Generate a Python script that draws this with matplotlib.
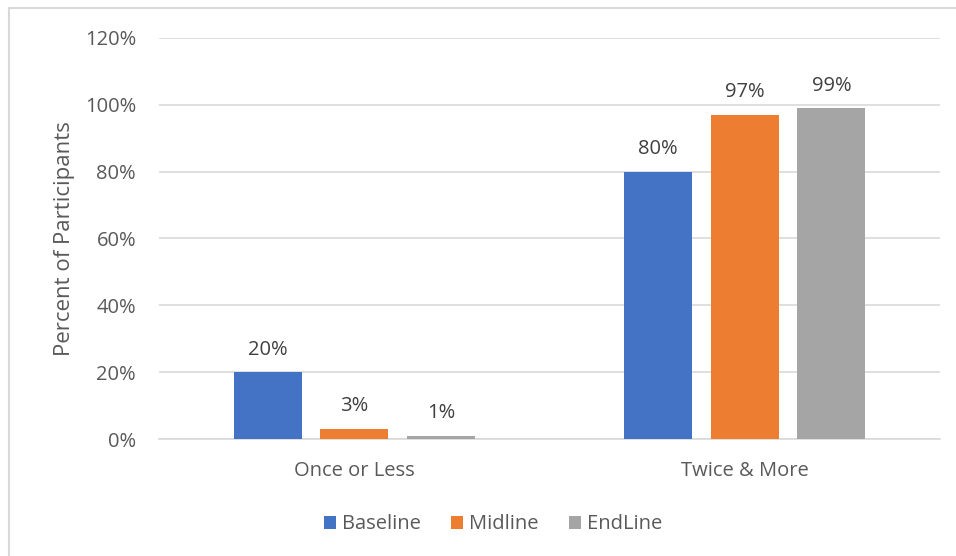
import numpy as np
import matplotlib.pyplot as plt
from matplotlib.lines import Line2D

categories = ["Once or Less", "Twice & More"]
series_names = ["Baseline", "Midline", "EndLine"]
baseline = [20, 80]
midline = [3, 97]
endline = [1, 99]
yticks = [0, 20, 40, 60, 80, 100, 120]

colors = ["#4472C4", "#ED7D31", "#A5A5A5"]
text_col = "#595959"

plt.rcParams['font.family'] = ['Open Sans', 'DejaVu Sans']

fig = plt.figure(figsize=(9.56, 5.56), dpi=100)
ax = fig.add_axes([0.1663, 0.2104, 0.817, 0.7213])

x = np.arange(len(categories))
width = 0.174
step = 0.222
for i, (name, vals) in enumerate(zip(series_names, [baseline, midline, endline])):
    pos = x + (i - 1) * step
    bars = ax.bar(pos, vals, width, color=colors[i], label=name, zorder=3)
    for b, v in zip(bars, vals):
        ax.annotate(f"{v}%", (b.get_x() + b.get_width() / 2, v),
                    xytext=(0, 9), textcoords="offset points",
                    ha="center", va="bottom", fontsize=14.5, color="#404040")

ax.set_xlim(-0.5, 1.5)
ax.set_ylim(0, 120)
ax.set_yticks(yticks)
ax.set_yticklabels([f"{t}%" for t in yticks])
ax.set_xticks(x)
ax.set_xticklabels(categories)
ax.tick_params(axis="both", length=0, colors=text_col, labelsize=14.5)
ax.tick_params(axis="y", pad=16.5)
ax.tick_params(axis="x", pad=16)
ax.yaxis.grid(True, color="#D9D9D9", linewidth=1.2, zorder=0)
for s in ["top", "right", "left"]:
    ax.spines[s].set_visible(False)
ax.spines["bottom"].set_color("#D9D9D9")
ax.spines["bottom"].set_linewidth(1.2)
ax.set_ylabel("Percent of Participants", fontsize=16, color=text_col, labelpad=7)

ax.legend(loc="upper center", bbox_to_anchor=(0.428, -0.143), ncol=3, frameon=False,
          fontsize=14.5, labelcolor=text_col, handlelength=0.6, handleheight=0.6,
          handletextpad=0.3, columnspacing=1.5)

# chart frame (left and top edges)
fig.add_artist(Line2D([0.0089, 0.0089], [0.0, 0.986], color="#D9D9D9", linewidth=1.5))
fig.add_artist(Line2D([0.0089, 1.0], [0.986, 0.986], color="#D9D9D9", linewidth=1.5))

fig.savefig("out.png", dpi=100, facecolor="white")
